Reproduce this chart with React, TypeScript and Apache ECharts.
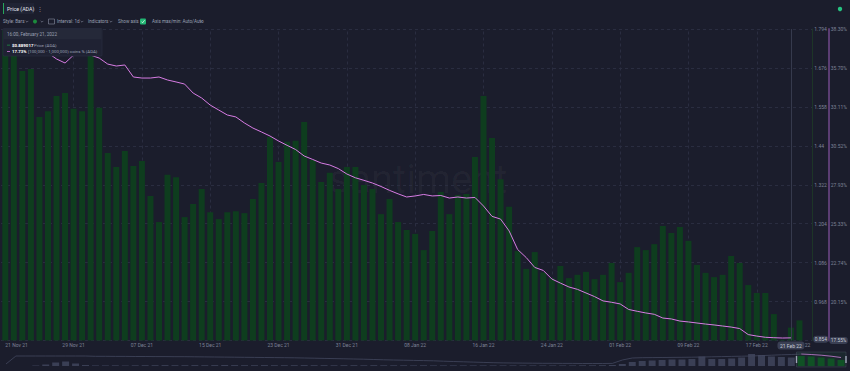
import React, { useEffect, useRef } from 'react';
import * as echarts from 'echarts';

// ---------- data ----------
const dates = [
  '21 Nov 21', '22 Nov 21', '23 Nov 21', '24 Nov 21', '25 Nov 21', '26 Nov 21', '27 Nov 21', '28 Nov 21', '29 Nov 21', '30 Nov 21',
  '01 Dec 21', '02 Dec 21', '03 Dec 21', '04 Dec 21', '05 Dec 21', '06 Dec 21', '07 Dec 21', '08 Dec 21', '09 Dec 21', '10 Dec 21',
  '11 Dec 21', '12 Dec 21', '13 Dec 21', '14 Dec 21', '15 Dec 21', '16 Dec 21', '17 Dec 21', '18 Dec 21', '19 Dec 21', '20 Dec 21',
  '21 Dec 21', '22 Dec 21', '23 Dec 21', '24 Dec 21', '25 Dec 21', '26 Dec 21', '27 Dec 21', '28 Dec 21', '29 Dec 21', '30 Dec 21',
  '31 Dec 21', '01 Jan 22', '02 Jan 22', '03 Jan 22', '04 Jan 22', '05 Jan 22', '06 Jan 22', '07 Jan 22', '08 Jan 22', '09 Jan 22',
  '10 Jan 22', '11 Jan 22', '12 Jan 22', '13 Jan 22', '14 Jan 22', '15 Jan 22', '16 Jan 22', '17 Jan 22', '18 Jan 22', '19 Jan 22',
  '20 Jan 22', '21 Jan 22', '22 Jan 22', '23 Jan 22', '24 Jan 22', '25 Jan 22', '26 Jan 22', '27 Jan 22', '28 Jan 22', '29 Jan 22',
  '30 Jan 22', '31 Jan 22', '01 Feb 22', '02 Feb 22', '03 Feb 22', '04 Feb 22', '05 Feb 22', '06 Feb 22', '07 Feb 22', '08 Feb 22',
  '09 Feb 22', '10 Feb 22', '11 Feb 22', '12 Feb 22', '13 Feb 22', '14 Feb 22', '15 Feb 22', '16 Feb 22', '17 Feb 22', '18 Feb 22',
  '19 Feb 22', '20 Feb 22', '21 Feb 22', '22 Feb 22',
];

// Price (ADA), USD
const price = [
  1.79, 1.74, 1.667, 1.673, 1.527, 1.545, 1.591, 1.6, 1.552, 1.545,
  1.72, 1.555, 1.418, 1.376, 1.424, 1.379, 1.394, 1.288, 1.209, 1.352,
  1.345, 1.224, 1.264, 1.309, 1.239, 1.218, 1.239, 1.242, 1.236, 1.279,
  1.327, 1.467, 1.391, 1.452, 1.455, 1.512, 1.397, 1.33, 1.358, 1.309,
  1.376, 1.376, 1.321, 1.309, 1.233, 1.279, 1.209, 1.185, 1.173, 1.124,
  1.182, 1.3, 1.233, 1.291, 1.294, 1.406, 1.591, 1.464, 1.339, 1.255,
  1.121, 1.067, 1.118, 1.056, 1.039, 1.076, 1.039, 1.049, 1.058, 1.036,
  1.049, 1.085, 1.027, 1.055, 1.133, 1.124, 1.142, 1.197, 1.176, 1.194,
  1.152, 1.079, 1.055, 1.042, 1.049, 1.106, 1.085, 1.018, 0.994, 0.994,
  0.93, 0.852, 0.889, 0.911,
];

// [100,000 - 1,000,000) coins % (ADA)
const holdersPct: (number | null)[] = [
  38.2, 38.0, 37.7, 37.3, 37.0, 36.7, 36.3, 36.03, 36.56, 36.56,
  36.56, 36.36, 35.96, 35.83, 35.9, 35.1, 35.03, 35.03, 35.1, 34.9,
  34.77, 34.63, 34.03, 33.7, 33.23, 32.9, 32.57, 32.44, 32.04, 31.7,
  31.44, 31.17, 30.84, 30.55, 30.27, 29.84, 29.61, 29.37, 29.24, 29.0,
  28.64, 28.39, 28.22, 28.04, 27.81, 27.55, 27.32, 27.11, 27.18, 27.28,
  27.18, 27.21, 27.04, 27.11, 27.04, 27.08, 26.51, 25.82, 25.64, 24.85,
  23.61, 23.08, 22.42, 22.22, 21.65, 21.38, 21.12, 20.96, 20.72, 20.48,
  20.19, 20.1, 19.99, 19.62, 19.5, 19.39, 19.3, 19.05, 18.99, 18.85,
  18.79, 18.72, 18.65, 18.59, 18.52, 18.45, 18.35, 17.95, 17.85, 17.77,
  17.74, 17.72, 17.73, null,
];

// axis tick scheme (as labelled on the picture)
const PRICE_BASE = 0.85;
const PRICE_STEP = 0.118;
const PRICE_POINTER = 0.854;
const PCT_BASE = 17.5548;
const PCT_STEP = 2.5926;
const TICK_COUNT = 8;

// overview strip (navigator) – relative heights
const overviewLine: number[] = [
  2, 10, 10, 10, 10, 10, 10, 10, 10, 9.7,
  9.7, 9.6, 9.6, 9.5, 9.5, 9.4, 9.4, 9.3, 9.3, 9.2,
  9.1, 9.0, 8.9, 8.8, 8.7, 8.6, 8.5, 8.4, 8.3, 8.2,
  8.0, 7.8, 7.6, 7.4, 7.2, 7.0, 6.8, 6.5, 6.2, 6.0,
  5.8, 5.6, 5.4, 5.2, 4.8, 4.5, 4.2, 3.9, 3.6, 3.3,
  3.1, 3.0, 2.9, 2.8, 2.7, 2.7, 2.6, 2.6, 2.5, 2.5,
  2.5, 2.6, 6, 8, 8.3, 8.4, 8.5, 8.6, 8.7, 8.8,
  9.0, 9.2, 9.4, 9.6, 9.8, 10.0, 10.4, 10.8, 11.2, 11.5,
  12, 11.5, 10.8, 9.8, 8.5,
];
const overviewBars: number[] = [
  0, 0, 0, 0.5, 1.5, 3.5, 4.5, 2.5, 1, 0.6,
  0.6, 0.7, 0.6, 0.7, 0.8, 0.8, 0.9, 0.8, 0.8, 0.9,
  0.8, 0.9, 1.0, 0.9, 0.8, 0.8, 0.9, 0.8, 0.8, 0.8,
  0.9, 0.8, 0.8, 0.7, 0.8, 0.8, 0.7, 0.8, 0.7, 0.7,
  0.7, 0.6, 0.7, 0.6, 0.6, 0.6, 0.6, 0.6, 0.6, 0.6,
  0.6, 0.6, 0.6, 0.6, 0.6, 0.6, 0.6, 0.6, 0.7, 0.7,
  0.8, 1, 2, 4, 5, 5.5, 6, 6.5, 6.5, 7,
  9.5, 7, 7, 7.5, 8.5, 12, 11, 9.5, 9, 8.5,
  10, 9.5, 8.5, 7.5, 6,
];
const OVERVIEW_WINDOW_START = 80;

const TOOLTIP_TIME = '16:00, February 21, 2022';
const TOOLTIP_PRICE = '$0.889017';
const TOOLTIP_PCT = '17.73%';
const HOVER_INDEX = 92;

// ---------- styles ----------
const BG = '#1b1d2c';
const BAR = '#0e3d1e';
const PINK = '#d77ce3';
const GRIDLINE = '#2a2d40';
const LABEL = '#7d8296';
const FONT = 'Roboto, "Noto Sans", sans-serif';

const priceN = price.map((p) => (p - PRICE_BASE) / PRICE_STEP);
const pctN = holdersPct.map((p) => (p == null ? null : (p - PCT_BASE) / PCT_STEP));
const fmtPrice = (v: number) => parseFloat((PRICE_BASE + v * PRICE_STEP).toFixed(3)).toString();
const fmtPct = (v: number) => (PCT_BASE + v * PCT_STEP).toFixed(2) + '%';
const lastPrice = price[price.length - 1];
const lastPct = holdersPct[HOVER_INDEX] as number;

const txt = (x: number, y: number, text: string, size: number, fill: string, weight = 'normal', align = 'left') => ({
  type: 'text',
  x,
  y,
  z: 100,
  silent: true,
  style: { text, fill, font: `${weight} ${size}px ${FONT}`, align, verticalAlign: 'middle' },
});
const chevron = (x: number, y: number) => ({
  type: 'polyline',
  z: 100,
  silent: true,
  shape: { points: [[x - 1.3, y - 0.6], [x, y + 0.7], [x + 1.3, y - 0.6]] },
  style: { stroke: '#8a8fa3', lineWidth: 0.6, fill: 'none' },
});

const graphics: any[] = [
  // watermark
  {
    type: 'text', x: 418, y: 179, z: 0, silent: true,
    style: { text: 'santiment', fill: 'rgba(255,255,255,0.035)', font: `normal 40px ${FONT}`, align: 'center', verticalAlign: 'middle' },
  },
  // title button
  { type: 'rect', z: 100, silent: true, shape: { x: 3, y: 3, width: 31, height: 11 }, style: { fill: '#202334' } },
  { type: 'rect', z: 100, silent: true, shape: { x: 3, y: 3, width: 1, height: 11 }, style: { fill: '#26a65b' } },
  txt(7, 8.5, 'Price (ADA)', 5.3, '#e4e6ee'),
  txt(37, 8.5, '⋮', 6, '#8a8fa3'),
  // toolbar
  txt(3, 21.5, 'Style: Bars', 4.6, '#9aa0b3'),
  chevron(27, 21.5),
  { type: 'circle', z: 100, silent: true, shape: { cx: 35, cy: 21.5, r: 2 }, style: { fill: '#1c8a3c' } },
  chevron(42, 21.5),
  { type: 'rect', z: 100, silent: true, shape: { x: 48.5, y: 19, width: 6, height: 5 }, style: { fill: 'none', stroke: '#8a8fa3', lineWidth: 0.6 } },
  txt(57, 21.5, 'Interval: 1d', 4.6, '#9aa0b3'),
  chevron(82, 21.5),
  txt(88, 21.5, 'Indicators', 4.6, '#9aa0b3'),
  chevron(111, 21.5),
  txt(118, 21.5, 'Show axis', 4.6, '#9aa0b3'),
  { type: 'rect', z: 100, silent: true, shape: { x: 140, y: 18.5, width: 6, height: 6, r: 1 }, style: { fill: '#22b573' } },
  {
    type: 'polyline', z: 101, silent: true,
    shape: { points: [[141.5, 21.6], [142.6, 22.8], [144.6, 20.2]] },
    style: { stroke: '#ffffff', lineWidth: 0.7, fill: 'none' },
  },
  txt(152, 21.5, 'Axis max/min: Auto/Auto', 4.6, '#9aa0b3'),
  chevron(201, 21.5),
  // status dot
  { type: 'circle', z: 100, silent: true, shape: { cx: 840, cy: 9, r: 2.2 }, style: { fill: '#26c281' } },
  // tooltip
  {
    type: 'group', x: 3, y: 28.5, z: 100, silent: true,
    children: [
      { type: 'rect', z: 100, shape: { x: 0, y: 0, width: 99, height: 27.5, r: 1 }, style: { fill: '#1f2233', stroke: '#2c3044', lineWidth: 0.6 } },
      { type: 'rect', z: 100, shape: { x: 0.3, y: 0.3, width: 98.4, height: 10.5 }, style: { fill: '#252939' } },
      { type: 'text', z: 101, x: 4, y: 5.6, style: { text: TOOLTIP_TIME, fill: '#9ca1b4', font: `normal 4.6px ${FONT}`, verticalAlign: 'middle' } },
      { type: 'rect', z: 101, shape: { x: 4, y: 16.2, width: 3, height: 0.8 }, style: { fill: '#1f8f45' } },
      { type: 'text', z: 101, x: 9, y: 16.6, style: { text: TOOLTIP_PRICE, fill: '#ffffff', font: `bold 4.4px ${FONT}`, verticalAlign: 'middle' } },
      { type: 'text', z: 101, x: 31, y: 16.6, style: { text: 'Price (ADA)', fill: '#9ca1b4', font: `normal 4.4px ${FONT}`, verticalAlign: 'middle' } },
      { type: 'rect', z: 101, shape: { x: 4, y: 22.6, width: 3, height: 0.8 }, style: { fill: PINK } },
      { type: 'text', z: 101, x: 9, y: 23, style: { text: TOOLTIP_PCT, fill: '#ffffff', font: `bold 4.4px ${FONT}`, verticalAlign: 'middle' } },
      { type: 'text', z: 101, x: 25, y: 23, style: { text: '[100,000 - 1,000,000) coins % (ADA)', fill: '#9ca1b4', font: `normal 4.4px ${FONT}`, verticalAlign: 'middle' } },
    ],
  },
  // overview window
  { type: 'rect', z: 100, silent: true, shape: { x: 796.5, y: 352, width: 49.5, height: 15 }, style: { fill: 'rgba(40,160,80,0.08)', stroke: 'rgba(140,150,170,0.35)', lineWidth: 0.5 } },
  { type: 'rect', z: 101, silent: true, shape: { x: 795.8, y: 356, width: 1.4, height: 7 }, style: { fill: '#a0a6b8' } },
  { type: 'rect', z: 101, silent: true, shape: { x: 845.3, y: 356, width: 1.4, height: 7 }, style: { fill: '#a0a6b8' } },
];

const option: any = {
  backgroundColor: BG,
  animation: false,
  textStyle: { fontFamily: FONT },
  tooltip: { show: false },
  axisPointer: { triggerOn: 'none' },
  grid: [
    { left: 1, right: 37, top: 29, bottom: 30.5 },
    { left: 1, right: 4, top: 353, height: 13 },
  ],
  xAxis: [
    {
      type: 'category',
      gridIndex: 0,
      data: dates,
      max: dates.length,
      boundaryGap: true,
      axisLine: { show: false },
      axisTick: { show: false },
      splitLine: { show: false },
      axisLabel: {
        interval: (i: number) => i % 8 === 0 || i === dates.length - 1,
        fontSize: 5,
        color: LABEL,
        margin: 2,
        alignMinLabel: 'left',
      },
      axisPointer: {
        show: true,
        status: 'show',
        value: HOVER_INDEX,
        type: 'line',
        triggerTooltip: false,
        lineStyle: { color: '#363a4d', width: 1, type: 'solid' },
        label: { show: true, backgroundColor: '#3a3f53', color: '#c6cad6', fontSize: 5, padding: [1.5, 2.5], margin: 1 },
      },
    },
    {
      type: 'category',
      gridIndex: 1,
      data: overviewLine.map((_, i) => i),
      show: false,
      boundaryGap: true,
    },
  ],
  yAxis: [
    {
      type: 'value',
      gridIndex: 0,
      position: 'right',
      min: 0,
      max: TICK_COUNT,
      interval: 1,
      axisLine: { show: true, lineStyle: { color: '#1d3527', width: 1 } },
      axisTick: { show: false },
      splitLine: { show: true, lineStyle: { color: GRIDLINE, type: [3, 3], width: 1 } },
      axisLabel: { fontSize: 5, color: LABEL, margin: 2, showMinLabel: false, formatter: (v: number) => fmtPrice(v) },
      axisPointer: {
        show: true,
        status: 'show',
        value: (PRICE_POINTER - PRICE_BASE) / PRICE_STEP,
        triggerTooltip: false,
        lineStyle: { color: 'rgba(0,0,0,0)' },
        label: {
          show: true, backgroundColor: '#3a3f53', color: '#c6cad6', fontSize: 4.8, padding: [1, 1.5], margin: 1,
          formatter: (p: any) => fmtPrice(p.value),
        },
      },
    },
    {
      type: 'value',
      gridIndex: 0,
      position: 'right',
      offset: 16,
      min: 0,
      max: TICK_COUNT,
      interval: 1,
      axisLine: { show: true, lineStyle: { color: '#5b3d73', width: 2 } },
      axisTick: { show: false },
      splitLine: { show: false },
      axisLabel: { fontSize: 5, color: LABEL, margin: 2.5, showMinLabel: false, formatter: (v: number) => fmtPct(v) },
      axisPointer: {
        show: true,
        status: 'show',
        value: 0,
        triggerTooltip: false,
        lineStyle: { color: 'rgba(0,0,0,0)' },
        label: {
          show: true, backgroundColor: '#3a3f53', color: '#c6cad6', fontSize: 4.8, padding: [1, 1.5], margin: 1,
          formatter: (p: any) => fmtPct(p.value),
        },
      },
    },
    { type: 'value', gridIndex: 1, min: 0, max: 13, show: false },
  ],
  series: [
    {
      name: 'grid',
      type: 'line',
      xAxisIndex: 0,
      yAxisIndex: 0,
      data: dates.map(() => null),
      silent: true,
      markLine: {
        z: 1,
        silent: true,
        symbol: 'none',
        label: { show: false },
        lineStyle: { color: GRIDLINE, type: [3, 3], width: 1 },
        emphasis: { disabled: true },
        data: dates.filter((_, i) => i % 8 === 0).map((d) => ({ xAxis: d })),
      },
    },
    {
      name: 'Price (ADA)',
      type: 'bar',
      xAxisIndex: 0,
      yAxisIndex: 0,
      data: priceN,
      barWidth: 6,
      itemStyle: { color: BAR },
      silent: true,
      markLine: {
        silent: true,
        symbol: 'none',
        lineStyle: { opacity: 0 },
        label: {
          show: true, position: 'end', distance: 1, formatter: lastPrice.toFixed(3),
          backgroundColor: '#1f9a52', color: '#eaffef', fontSize: 4.5, padding: [0.8, 1.2],
        },
        data: [{ yAxis: (lastPrice - PRICE_BASE) / PRICE_STEP }],
      },
    },
    {
      name: '[100,000 - 1,000,000) coins % (ADA)',
      type: 'line',
      xAxisIndex: 0,
      yAxisIndex: 1,
      data: pctN,
      showSymbol: false,
      symbol: 'none',
      lineStyle: { color: PINK, width: 1 },
      silent: true,
      z: 3,
      markLine: {
        silent: true,
        symbol: 'none',
        lineStyle: { opacity: 0 },
        label: {
          show: true, position: 'end', distance: 17.5, formatter: lastPct.toFixed(2) + '%',
          backgroundColor: PINK, color: '#ffffff', fontSize: 4.8, padding: [1, 1.5],
        },
        data: [{ yAxis: (lastPct - PCT_BASE) / PCT_STEP }],
      },
    },
    {
      name: 'overview-bars',
      type: 'bar',
      xAxisIndex: 1,
      yAxisIndex: 2,
      barCategoryGap: '30%',
      silent: true,
      data: overviewBars.map((v, i) =>
        i >= OVERVIEW_WINDOW_START ? { value: v, itemStyle: { color: '#0f4a22' } } : { value: v, itemStyle: { color: '#3a3f55' } }
      ),
    },
    {
      name: 'overview-line',
      type: 'line',
      xAxisIndex: 1,
      yAxisIndex: 2,
      silent: true,
      symbol: 'none',
      lineStyle: { color: '#43485e', width: 0.8 },
      data: overviewLine.map((v, i) => (i <= OVERVIEW_WINDOW_START ? v : null)),
    },
    {
      name: 'overview-line-window',
      type: 'line',
      xAxisIndex: 1,
      yAxisIndex: 2,
      silent: true,
      symbol: 'none',
      lineStyle: { color: PINK, width: 0.8 },
      data: overviewLine.map((v, i) => (i >= OVERVIEW_WINDOW_START ? v : null)),
    },
  ],
  graphic: graphics,
};

export default function App() {
  const ref = useRef<HTMLDivElement>(null);
  useEffect(() => {
    document.body.style.margin = '0';
    document.body.style.background = BG;
    const chart = echarts.init(ref.current as HTMLDivElement, undefined, { renderer: 'svg' });
    chart.setOption(option);
    return () => chart.dispose();
  }, []);
  return <div ref={ref} style={{ width: 850, height: 371 }} />;
}
